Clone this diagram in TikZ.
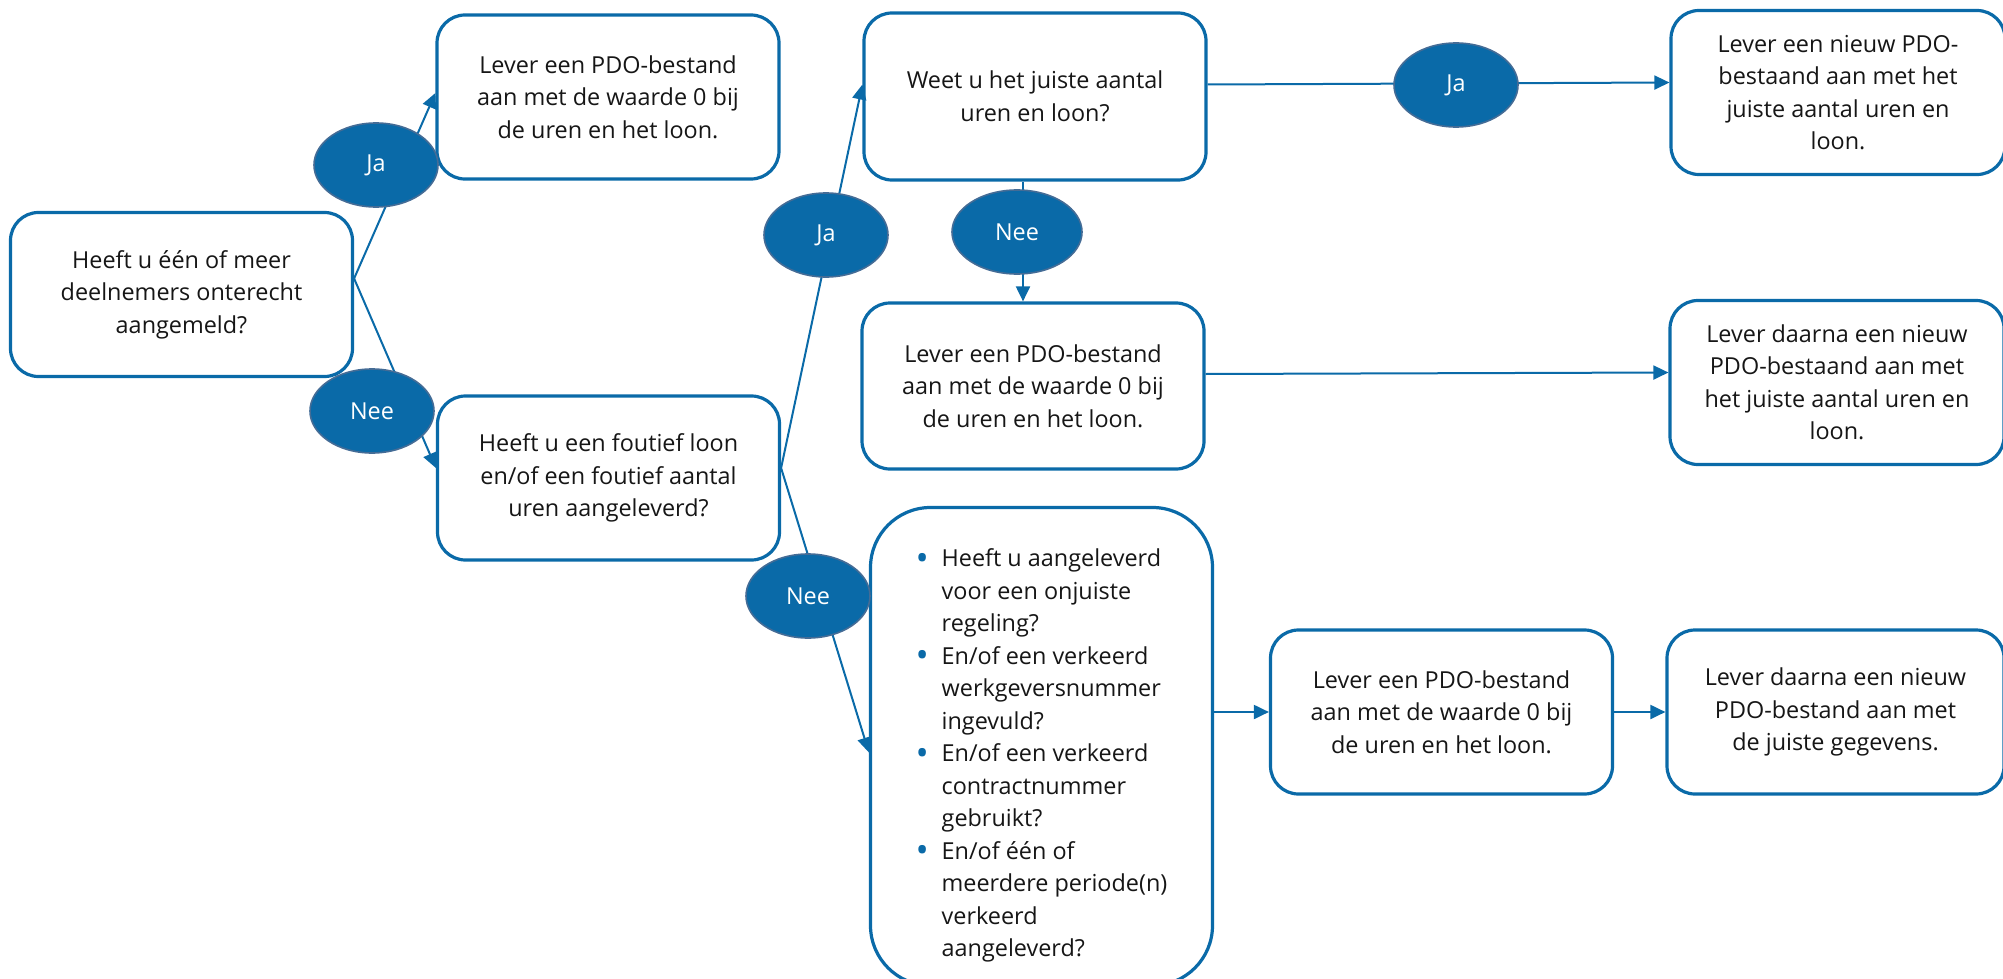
\documentclass[tikz,border=0pt]{standalone}
\usepackage{fontspec}
\setmainfont{Open Sans}
\usepackage{xcolor}
\usepackage{tikz}
\usetikzlibrary{shapes,arrows.meta,calc,positioning}

\definecolor{pdoblue}{RGB}{10,106,168}
\definecolor{pdoedge}{RGB}{68,108,150}
\definecolor{pdotext}{RGB}{22,22,22}

\newcommand{\bul}{\makebox[13pt][l]{\textcolor{pdoblue}{\raisebox{-0.14em}{\scalebox{1.5}{\textbullet}}}}}
\newcommand{\ind}{\hspace*{13pt}}

\begin{document}
\begin{tikzpicture}[x=0.5pt, y=-0.5pt, every node/.style = {align=center, text=pdotext, font=\fontsize{11.7}{16.25}\selectfont}]
			\tikzset{ box/.style = { shape=rectangle, rounded corners=14pt, draw=pdoblue, line width=1.6pt, fill=white, inner sep=0pt, minimum width=171pt, minimum height=82pt } }
			\tikzset{ endbox/.style = { box, minimum width=167pt } }
			\tikzset{ listbox/.style = { box, rounded corners=30pt, minimum height=239pt, align=left } }
			\tikzset{ answer/.style = { shape=ellipse, fill=pdoblue, draw=pdoedge, line width=0.8pt, text=white, inner sep=0pt, minimum width=62pt, minimum height=42pt } }
			\tikzset{ link/.style = { draw=pdoblue, line width=1pt, -{Triangle[length=7.5pt,width=7pt]} } }

			\useasboundingbox (0,0) rectangle (2003,979);

			\node [box] (onterecht) at (181.5,294.5) {Heeft u één of meer\\deelnemers onterecht\\aangemeld?};
			\node [box] (nulbestand) at (608,97) {Lever een PDO-bestand\\aan met de waarde 0 bij\\de uren en het loon.};
			\node [box] (foutief) at (608.5,478) {Heeft u een foutief loon\\en/of een foutief aantal\\uren aangeleverd?};
			\node [box, minimum height=83.5pt] (weet) at (1035,96.5) {Weet u het juiste aantal\\uren en loon?};
			\node [box, minimum height=83pt] (nulbestand2) at (1033,386) {Lever een PDO-bestand\\aan met de waarde 0 bij\\de uren en het loon.};
			\node [endbox] (nieuw) at (1838,92.5) {Lever een nieuw PDO-\\bestaand aan met het\\juiste aantal uren en\\loon.};
			\node [endbox] (nieuw2) at (1837,382.5) {Lever daarna een nieuw\\PDO-bestaand aan met\\het juiste aantal uren en\\loon.};
			\node [listbox] (overig) at (1041.5,746.5) {\mbox{}\\[2pt]\bul Heeft u aangeleverd\\\ind voor een onjuiste\\\ind regeling?\\\bul En/of een verkeerd\\\ind werkgeversnummer\\\ind ingevuld?\\\bul En/of een verkeerd\\\ind contractnummer\\\ind gebruikt?\\\bul En/of één of\\\ind meerdere periode(n)\\\ind verkeerd\\\ind aangeleverd?};
			\node [box] (nulbestand3) at (1441.5,712) {Lever een PDO-bestand\\aan met de waarde 0 bij\\de uren en het loon.};
			\node [endbox, minimum width=168.5pt] (gegevens) at (1835.5,712) {Lever daarna een nieuw\\PDO-bestand aan met\\de juiste gegevens.};

			\draw [link] ([yshift=8pt]onterecht.east) -- ([yshift=2pt]nulbestand.west);
			\draw [link] ([yshift=8pt]onterecht.east) -- ([yshift=5pt]foutief.west);
			\draw [link] ([yshift=5pt]foutief.east) -- ([yshift=6pt]weet.west);
			\draw [link] ([yshift=5pt]foutief.east) -- ([yshift=-3pt]overig.west);
			\draw [link] ([yshift=6pt]weet.east) -- ([yshift=5pt]nieuw.west);
			\draw [link] ([xshift=-6pt]weet.south) -- ([xshift=-6pt]weet.south |- nulbestand2.north);
			\draw [link] ([yshift=6pt]nulbestand2.east) -- ([yshift=5pt]nieuw2.west);
			\draw [link] (overig.east |- nulbestand3.west) -- (nulbestand3.west);
			\draw [link] (nulbestand3.east) -- (gegevens.west);

			\node [answer] (ja1) at (376,165) {Ja};
			\node [answer] (nee1) at (372,411) {Nee};
			\node [answer] (ja2) at (826,235) {Ja};
			\node [answer, minimum width=65pt] (nee2) at (1017,232) {Nee};
			\node [answer] (ja3) at (1456,85) {Ja};
			\node [answer] (nee3) at (808,596) {Nee};
		\end{tikzpicture}
\end{document}
